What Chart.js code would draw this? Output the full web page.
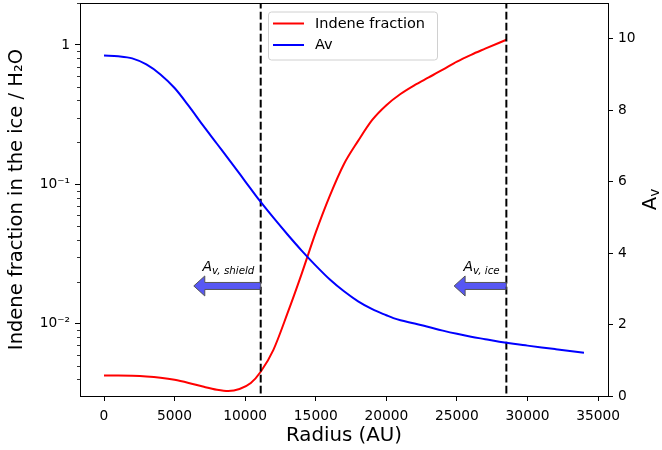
<!DOCTYPE html>
<html>
<head>
<meta charset="utf-8">
<script src="https://cdn.jsdelivr.net/npm/chart.js@4.4.1/dist/chart.umd.min.js"></script>
<style>
  html, body { margin: 0; padding: 0; background: #fff; }
  #wrap { width: 662px; height: 450px; }
</style>
</head>
<body>
<div id="wrap"><canvas id="chart" width="662" height="450"></canvas></div>
<script>
// indene fraction (left, log) vs radius
const radiusIndene = [0, 1000, 2000, 3000, 4000, 5000, 6000, 7000, 8000, 8800, 9600, 10400, 11100,
    12000, 13000, 14000, 15000, 16000, 17000, 18000, 19000, 20000, 21000, 22000, 23000, 24000,
    25000, 26000, 27000, 28500];
const indeneFraction = [0.00426, 0.00426, 0.00424, 0.00419, 0.0041, 0.00396, 0.00376, 0.00354, 0.00336,
    0.00329, 0.0034, 0.00375, 0.00452, 0.0065, 0.0119, 0.0228, 0.0452, 0.083, 0.14, 0.205, 0.29,
    0.37, 0.445, 0.515, 0.585, 0.665, 0.76, 0.85, 0.94, 1.09];

// Av (right axis) vs radius
const radiusAv = [0, 1000, 2000, 3000, 4000, 5000, 6000, 7000, 8000, 9000, 10000, 11000, 12000, 13000,
    14000, 15000, 16000, 17000, 18000, 19000, 20000, 20500, 21000, 22000, 23000, 24000, 25000, 26000,
    27000, 28000, 29000, 30000, 31000, 32000, 33000, 34000];
const avValues = [9.53, 9.51, 9.45, 9.28, 9.0, 8.62, 8.12, 7.58, 7.06, 6.54, 6.01, 5.48, 4.99, 4.52,
    4.07, 3.65, 3.26, 2.93, 2.65, 2.43, 2.26, 2.18, 2.12, 2.03, 1.93, 1.83, 1.74, 1.66, 1.59, 1.52,
    1.46, 1.41, 1.36, 1.31, 1.26, 1.21];

const shieldRadius = 11100;
const iceRadius = 28500;

const xTicks = [0, 5000, 10000, 15000, 20000, 25000, 30000, 35000];
const leftTicks = [0.01, 0.1, 1];
const leftTickLabels = ["10\u207B\u00B2", "10\u207B\u00B9", "1"];
const rightTicks = [0, 2, 4, 6, 8, 10];

// arrows: tail on the dashed line, tip to the left
const arrows = [
    { tail: shieldRadius, tip: 6360, labelX: 6980, sub: "v, shield" },
    { tail: iceRadius, tip: 24800, labelX: 25460, sub: "v, ice" }
];
const arrowAv = 3.08;
const labelAv = 3.5;

const FONT = "'DejaVu Sans', sans-serif";

function pts(xs, ys) {
    return xs.map((x, i) => ({ x: x, y: ys[i] }));
}

function vline(x) {
    return {
        label: "",
        data: [{ x: x, y: 1e-4 }, { x: x, y: 100 }],
        yAxisID: "y",
        borderColor: "#000",
        borderWidth: 2,
        borderDash: [7.7, 3.3],
        pointRadius: 0,
        order: 2
    };
}

function noPad(s) {
    s.paddingTop = 0;
    s.paddingBottom = 0;
    s.paddingLeft = 0;
    s.paddingRight = 0;
}

const decor = {
    id: "decor",
    afterDatasetsDraw(chart) {
        const ctx = chart.ctx;
        const a = chart.chartArea;
        const sx = chart.scales.x, sy = chart.scales.y, sy2 = chart.scales.y2;
        ctx.save();

        // arrows
        arrows.forEach(ar => {
            const xt = sx.getPixelForValue(ar.tail);
            const xp = sx.getPixelForValue(ar.tip);
            const yc = sy2.getPixelForValue(arrowAv);
            const bh = 3.5, hh = 10, hl = 11;
            const xh = xp + hl;
            ctx.beginPath();
            ctx.moveTo(xt, yc - bh);
            ctx.lineTo(xh, yc - bh);
            ctx.lineTo(xh, yc - hh);
            ctx.lineTo(xp, yc);
            ctx.lineTo(xh, yc + hh);
            ctx.lineTo(xh, yc + bh);
            ctx.lineTo(xt, yc + bh);
            ctx.closePath();
            ctx.fillStyle = "rgba(40,40,240,0.78)";
            ctx.fill();
            ctx.strokeStyle = "#555";
            ctx.lineWidth = 1;
            ctx.stroke();

            const lx = sx.getPixelForValue(ar.labelX);
            const ly = sy2.getPixelForValue(labelAv);
            ctx.fillStyle = "#000";
            ctx.textAlign = "left";
            ctx.textBaseline = "alphabetic";
            ctx.font = "italic 14px " + FONT;
            ctx.fillText("A", lx, ly);
            const w = ctx.measureText("A").width;
            ctx.font = "italic 10.3px " + FONT;
            ctx.fillText(ar.sub, lx + w, ly + 3);
        });

        // minor ticks on the log axis
        ctx.strokeStyle = "#000";
        ctx.lineWidth = 0.8;
        for (let e = -3; e <= 0; e++) {
            for (let m = 2; m <= 9; m++) {
                const v = m * Math.pow(10, e);
                if (v < sy.min || v > sy.max) continue;
                const y = Math.round(sy.getPixelForValue(v)) + 0.5;
                ctx.beginPath();
                ctx.moveTo(a.left - 3, y);
                ctx.lineTo(a.left, y);
                ctx.stroke();
            }
        }

        // frame
        ctx.lineWidth = 1;
        ctx.strokeRect(Math.round(a.left) + 0.5, Math.round(a.top) + 0.5,
            Math.round(a.right - a.left), Math.round(a.bottom - a.top));

        // legend
        const lx0 = 268, ly0 = 11.5, lw = 169, lh = 48;
        ctx.beginPath();
        ctx.roundRect(lx0 + 0.5, ly0 + 0.5, lw, lh, 3);
        ctx.fillStyle = "rgba(255,255,255,0.8)";
        ctx.fill();
        ctx.strokeStyle = "#d0d0d0";
        ctx.stroke();
        const entries = chart.data.datasets.slice(0, 2);
        entries.forEach((ds, i) => {
            const y = 23.5 + i * 21.5;
            ctx.strokeStyle = ds.borderColor;
            ctx.lineWidth = 2;
            ctx.beginPath();
            ctx.moveTo(273, y);
            ctx.lineTo(304, y);
            ctx.stroke();
            ctx.fillStyle = "#000";
            ctx.font = "14.5px " + FONT;
            ctx.textAlign = "left";
            ctx.textBaseline = "middle";
            ctx.fillText(ds.label, 315, y + 0.5);
        });

        // axis titles
        ctx.fillStyle = "#000";
        ctx.font = "19.8px " + FONT;
        ctx.textAlign = "center";
        ctx.textBaseline = "middle";
        ctx.fillText("Radius (AU)", (a.left + a.right) / 2, 436);

        const cy = (a.top + a.bottom) / 2;
        ctx.save();
        ctx.translate(17, cy);
        ctx.rotate(-Math.PI / 2);
        ctx.font = "19.5px " + FONT;
        ctx.fillText("Indene fraction in the ice / H\u2082O", 0, 0);
        ctx.restore();

        ctx.save();
        ctx.translate(651, cy);
        ctx.rotate(-Math.PI / 2);
        ctx.textAlign = "left";
        ctx.font = "19.5px " + FONT;
        const wA = ctx.measureText("A").width;
        ctx.font = "13.6px " + FONT;
        const wv = ctx.measureText("v").width;
        const x0 = -(wA + wv) / 2;
        ctx.font = "19.5px " + FONT;
        ctx.fillText("A", x0, 0);
        ctx.font = "13.6px " + FONT;
        ctx.fillText("v", x0 + wA, 4);
        ctx.restore();

        ctx.restore();
    }
};

const tickFont = { family: FONT, size: 13.8 };

new Chart(document.getElementById("chart"), {
    type: "line",
    data: {
        datasets: [
            {
                label: "Indene fraction",
                data: pts(radiusIndene, indeneFraction),
                yAxisID: "y",
                borderColor: "#ff0000",
                borderWidth: 2,
                pointRadius: 0,
                cubicInterpolationMode: "monotone",
                order: 3
            },
            {
                label: "Av",
                data: pts(radiusAv, avValues),
                yAxisID: "y2",
                borderColor: "#0000ff",
                borderWidth: 2,
                pointRadius: 0,
                cubicInterpolationMode: "monotone",
                order: 1
            },
            vline(shieldRadius),
            vline(iceRadius)
        ]
    },
    options: {
        responsive: false,
        animation: false,
        devicePixelRatio: 1,
        layout: { padding: { top: 3, left: 0, right: 0, bottom: 0 } },
        plugins: { legend: { display: false }, tooltip: { enabled: false } },
        scales: {
            x: {
                type: "linear",
                bounds: "data",
                min: -1700,
                max: 35700,
                afterBuildTicks: s => { s.ticks = xTicks.map(v => ({ value: v })); },
                afterFit: s => { s.height = 54; noPad(s); },
                grid: { drawOnChartArea: false, tickLength: 5, color: "#000", tickColor: "#000" },
                border: { color: "#000" },
                ticks: { color: "#000", font: tickFont, padding: 7, maxRotation: 0, autoSkip: false,
                    callback: v => String(v) }
            },
            y: {
                type: "logarithmic",
                position: "left",
                bounds: "data",
                min: 0.00303,
                max: 2.0,
                afterBuildTicks: s => { s.ticks = leftTicks.map(v => ({ value: v })); },
                afterFit: s => { s.width = 80; noPad(s); },
                grid: { drawOnChartArea: false, tickLength: 5, color: "#000", tickColor: "#000" },
                border: { color: "#000" },
                ticks: {
                    color: "#000", font: tickFont, padding: 5, autoSkip: false,
                    callback: v => {
                        const i = leftTicks.findIndex(t => Math.abs(t - v) < t * 1e-6);
                        return i >= 0 ? leftTickLabels[i] : "";
                    }
                }
            },
            y2: {
                type: "linear",
                position: "right",
                bounds: "data",
                min: 0,
                max: 11,
                afterBuildTicks: s => { s.ticks = rightTicks.map(v => ({ value: v })); },
                afterFit: s => { s.width = 54; noPad(s); },
                grid: { drawOnChartArea: false, tickLength: 5, color: "#000", tickColor: "#000" },
                border: { color: "#000" },
                ticks: { color: "#000", font: tickFont, padding: 5, autoSkip: false,
                    callback: v => String(v) }
            }
        }
    },
    plugins: [decor]
});
</script>
</body>
</html>
